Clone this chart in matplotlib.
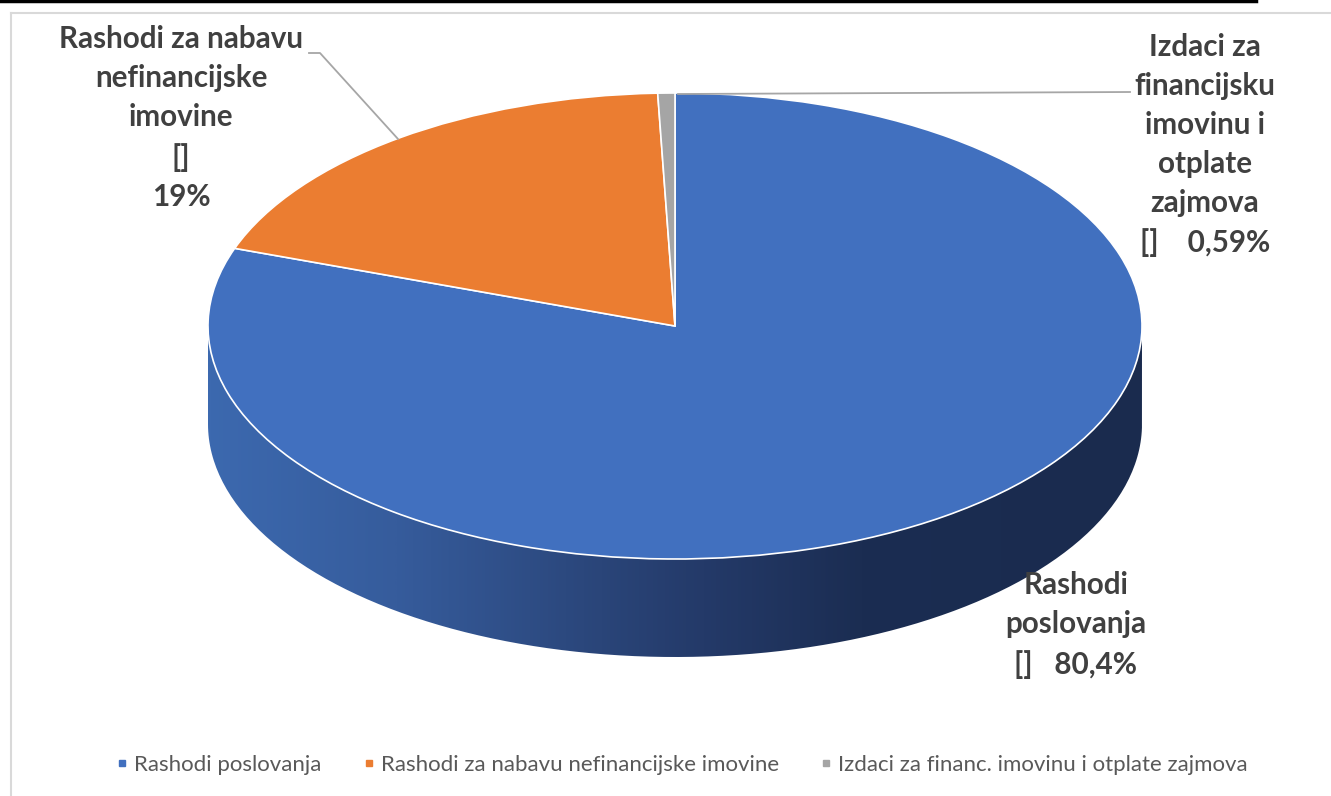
import numpy as np
import matplotlib
matplotlib.use("Agg")
import matplotlib.pyplot as plt
from matplotlib.colors import LinearSegmentedColormap
from matplotlib.lines import Line2D
from matplotlib.patches import PathPatch
from matplotlib.path import Path

W, H = 1331, 796
CX, CY, RX, RY = 675, 326, 467, 233
DEPTH = 98 / RY

categories = ["Rashodi poslovanja", "Rashodi za nabavu nefinancijske imovine",
              "Izdaci za financ. imovinu i otplate zajmova"]
values = [80.4, 19, 0.59]
colors = ["#4170BF", "#EB7D31", "#A5A5A5"]
label_texts = ["Rashodi\nposlovanja\n[]   80,4%",
               "Rashodi za nabavu\nnefinancijske\nimovine\n[]\n19%",
               "Izdaci za\nfinancijsku\nimovinu i\notplate\nzajmova\n[]    0,59%"]
label_pos = [(1076, 625), (181, 118), (1205, 145)]
side_stops = [(0.0, "#3C69AF"), (0.2, "#365C9C"), (0.42, "#2A4579"),
              (0.53, "#243A69"), (0.7, "#1B2D52"), (1.0, "#1A2B4E")]

plt.rcParams['font.family'] = ['Lato', 'DejaVu Sans']

fig = plt.figure(figsize=(W / 100, H / 100), dpi=100)
ax = fig.add_axes([0, 0, 1, 1])

wedges, _ = ax.pie(values, colors=colors, startangle=90, counterclock=False,
                   wedgeprops=dict(edgecolor="white", linewidth=1.2, zorder=3))
ax.set_aspect("auto")

# side wall of the pie, gradient clipped to the band under the front rim
t = np.linspace(np.pi, 2 * np.pi, 200)
xs = np.cos(t)
ys = np.sin(t)
verts = np.r_[np.c_[xs, ys], np.c_[xs[::-1], ys[::-1] - DEPTH]]
band = PathPatch(Path(np.r_[verts, verts[:1]]), fc="none", ec="none")
ax.add_patch(band)
side_cmap = LinearSegmentedColormap.from_list("side", side_stops)
img = ax.imshow(np.linspace(0, 1, 512).reshape(1, -1), cmap=side_cmap,
                extent=(-1, 1, -1 - DEPTH, 0), aspect="auto", zorder=1)
img.set_clip_path(band)
ax.set_xlim(-CX / RX, (W - CX) / RX)
ax.set_ylim(-(H - CY) / RY, CY / RY)


def fig_xy(x, y):
    return x / W, 1 - y / H


# chart frame and the black rule above it
for xx, yy, col, lw in [((11, 11), (13, 796), "#D9D9D9", 1.5),
                        ((11, 1331), (13, 13), "#D9D9D9", 1.5),
                        ((0, 1256), (1, 1), "#000000", 2.5)]:
    fig.add_artist(Line2D(np.array(xx) / W, 1 - np.array(yy) / H, color=col, lw=lw))

# leader lines
for xx, yy in [((309, 320, 398), (53, 53, 139)), ((1130, 678), (92, 94))]:
    fig.add_artist(Line2D(np.array(xx) / W, 1 - np.array(yy) / H,
                          color="#A6A6A6", lw=1.3, zorder=5))

for txt, (x, y) in zip(label_texts, label_pos):
    fx, fy = fig_xy(x, y)
    fig.text(fx, fy, txt, ha="center", va="center", fontsize=21.3, fontweight="bold",
             color="#404040", linespacing=1.48, zorder=6)

handles = [Line2D([], [], ls="", marker="s", ms=5, color=c) for c in colors]
fig.legend(handles, categories, ncol=3, loc="center", bbox_to_anchor=fig_xy(682, 765),
           frameon=False, fontsize=16, labelcolor="#595959", handlelength=0.55,
           handletextpad=0.27, columnspacing=1.85)

fig.savefig("out.png", dpi=100)
